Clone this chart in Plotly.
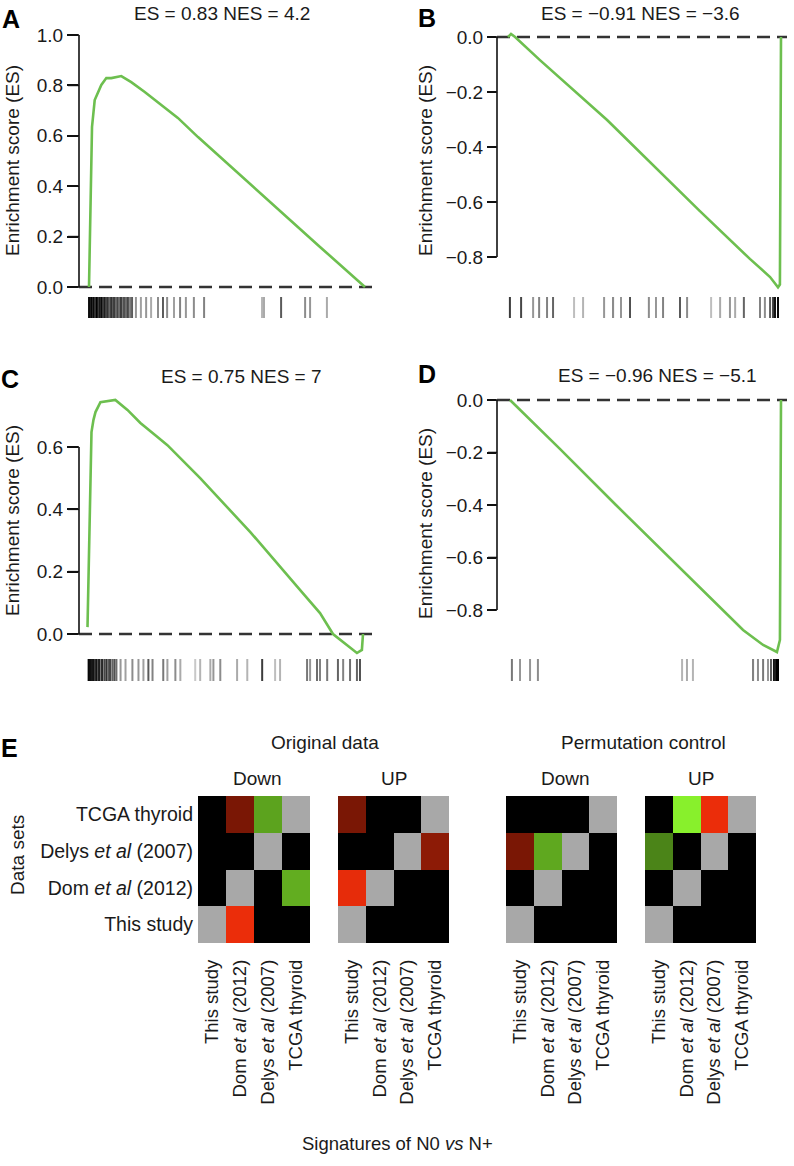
import plotly.graph_objects as go

W, H = 794, 1166
FONT = "Liberation Sans, Arial, Helvetica, sans-serif"
TXT = "#1a1a1a"


def fx(p):
    return p / W


def fy(p):
    return 1 - p / H


def ax(n):
    s = "" if n == 1 else str(n)
    return f"x{s}", f"y{s}", f"xaxis{s}", f"yaxis{s}"


# ---------------- data: running enrichment score curves (rank in % of list) ----
rank_A = [0, 0.36, 0.62, 1.09, 2.07, 3.26, 4.46, 6.27, 8.08, 11.7, 15.3, 20.2, 32.2,
          39.5, 54.7, 69.2, 83.7, 100]
es_A = [0, 0.19, 0.373, 0.635, 0.742, 0.774, 0.802, 0.829, 0.829, 0.837, 0.813, 0.774,
        0.671, 0.595, 0.444, 0.302, 0.159, 0.0]

rank_B = [0, 1.1, 2.6, 11.7, 36.3, 52.0, 70.3, 88.6, 96.0, 98.9, 99.6, 100]
es_B = [0, 0.011, 0, -0.084, -0.302, -0.455, -0.633, -0.807, -0.873, -0.91, -0.90, 0.0]

rank_C = [0, 0.36, 0.72, 1.09, 1.45, 2.17, 2.9, 4.7, 7.2, 10.1, 14.5, 19.2, 25.4, 29.0,
          40.9, 59.1, 77.2, 84.4, 89.1, 94.2, 97.8, 99.6, 100]
es_C = [0.022, 0.173, 0.43, 0.574, 0.648, 0.687, 0.712, 0.744, 0.748, 0.751, 0.719,
        0.677, 0.632, 0.606, 0.50, 0.327, 0.141, 0.067, 0.0, -0.035, -0.061, -0.051, 0.0]

rank_D = [0, 18.5, 39.1, 59.0, 77.5, 86.0, 93.4, 98.5, 99.6, 100]
es_D = [0, -0.187, -0.40, -0.602, -0.789, -0.876, -0.933, -0.96, -0.914, 0.0]

# ---------------- data: gene-set hit positions (rank %) and their grey level ---
rug_A_x = [0.0, 0.4, 0.7, 1.1, 1.4, 1.8, 2.2, 2.5, 2.9, 3.3, 3.6, 4.0, 4.3, 4.7, 5.1,
           5.8, 6.2, 6.9, 7.2, 8.0, 8.7, 9.1, 9.8, 10.5, 10.9, 11.6, 12.3, 12.7, 13.4,
           14.1, 14.9, 15.6, 17.0, 18.8, 20.7, 22.5, 25.0, 26.8, 28.3, 30.8, 33.0, 35.1,
           38.0, 41.7, 62.7, 63.4, 69.6, 78.3, 80.1, 86.2]
rug_A_g = [20, 10, 30, 0, 40, 10, 20, 50, 0, 30, 60, 20, 40, 10, 60,
           30, 70, 40, 80, 50, 90, 60, 100, 70, 110, 60, 120, 80, 110,
           70, 120, 90, 150, 160, 150, 170, 140, 90, 140, 160, 130, 150,
           140, 130, 180, 170, 90, 140, 150, 170]

rug_B_x = [0.7, 4.8, 9.2, 11.4, 14.3, 16.5, 24.2, 27.5, 35.2, 38.5, 41.4, 44.7, 51.6,
           54.2, 56.8, 63.0, 65.6, 74.4, 77.7, 81.3, 83.2, 86.4, 92.3, 94.1, 96.0, 97.1,
           97.8, 98.9]
rug_B_g = [60, 70, 150, 130, 130, 100, 190, 180, 150, 140, 150, 80, 140,
           150, 130, 90, 140, 190, 170, 150, 170, 100, 130, 140, 90, 60,
           20, 10]

rug_C_x = [0.4, 0.7, 1.1, 1.4, 1.8, 2.2, 2.5, 2.9, 3.3, 4.0, 4.3, 5.1, 5.4, 6.2, 6.9,
           7.6, 8.3, 9.1, 9.8, 10.5, 12.0, 13.8, 16.3, 18.5, 20.3, 22.1, 23.6, 27.5,
           29.0, 31.9, 33.7, 39.1, 40.9, 44.6, 45.7, 48.2, 54.3, 58.0, 63.4, 68.1, 69.9,
           79.7, 80.8, 83.3, 84.4, 87.0, 90.9, 92.8, 95.3, 97.8, 98.9]
rug_C_g = [20, 0, 30, 10, 40, 0, 30, 60, 20, 50, 30, 60, 40, 70, 50,
           90, 70, 100, 80, 110, 150, 160, 140, 150, 160, 90, 130, 120,
           160, 140, 170, 200, 180, 170, 150, 140, 170, 180, 60, 190, 180,
           120, 150, 110, 130, 120, 100, 130, 110, 100, 80]

rug_D_x = [0.7, 3.7, 7.4, 10.3, 63.5, 65.3, 67.5, 89.7, 91.5, 93.4, 95.2, 96.3, 97.4,
           98.2, 98.9]
rug_D_g = [120, 150, 150, 140, 180, 170, 180, 130, 140, 120, 150, 90, 20, 0, 0]

# ---------------- data: panel E heat maps (None = self comparison, grey) -------
data_sets = ["TCGA thyroid", "Delys <i>et al</i> (2007)", "Dom <i>et al</i> (2012)",
             "This study"]
signatures = ["This study", "Dom <i>et al</i> (2012)", "Delys <i>et al</i> (2007)",
              "TCGA thyroid"]
# positive = red (enriched), negative = green, 0 = black (not significant)
orig_down = [[0, 0.52, -0.68, None],
             [0, 0, None, 0],
             [0, None, 0, -0.72],
             [None, 1.0, 0, 0]]
orig_up = [[0.52, 0, 0, None],
           [0, 0, None, 0.6],
           [0.98, None, 0, 0],
           [None, 0, 0, 0]]
perm_down = [[0, 0, 0, None],
             [0.52, -0.7, None, 0],
             [0, None, 0, 0],
             [None, 0, 0, 0]]
perm_up = [[0, -1.0, 1.0, None],
           [-0.55, 0, None, 0],
           [0, None, 0, 0],
           [None, 0, 0, 0]]

titles = ["ES = 0.83 NES = 4.2", "ES = \u22120.91 NES = \u22123.6",
          "ES = 0.75 NES = 7", "ES = \u22120.96 NES = \u22125.1"]

# ---------------- figure ----------------
fig = go.Figure()
layout = dict(width=W, height=H, margin=dict(l=0, r=0, t=0, b=0, pad=0, autoexpand=False),
              paper_bgcolor="white", plot_bgcolor="rgba(0,0,0,0)", showlegend=False,
              barmode="overlay", font=dict(family=FONT, color=TXT, size=19))
shapes = []
annotations = []

GREEN = "#6dbf4f"
HIDDEN_X = dict(showgrid=False, zeroline=False, showline=False, showticklabels=False,
                ticks="")

panels = [
    dict(rank=rank_A, es=es_A, rx=rug_A_x, rg=rug_A_g, xpx=(79, 373), axpx=79,
         x0px=89, pxu=2.76, ypx=(34, 295), yr=(-0.0317, 1.004),
         ticks=[0, 0.2, 0.4, 0.6, 0.8, 1.0], rugpx=(297, 318), tlen=11),
    dict(rank=rank_B, es=es_B, rx=rug_B_x, rg=rug_B_g, xpx=(497, 787), axpx=497,
         x0px=508, pxu=2.73, ypx=(30, 292), yr=(-0.9273, 0.0255),
         ticks=[-0.8, -0.6, -0.4, -0.2, 0.0], rugpx=(297, 318), tlen=9),
    dict(rank=rank_C, es=es_C, rx=rug_C_x, rg=rug_C_g, xpx=(79, 372), axpx=79,
         x0px=87.5, pxu=2.755, ypx=(395, 656), yr=(-0.0706, 0.7668),
         ticks=[0, 0.2, 0.4, 0.6], rugpx=(659, 681), tlen=11),
    dict(rank=rank_D, es=es_D, rx=rug_D_x, rg=rug_D_g, xpx=(497, 787), axpx=497,
         x0px=510, pxu=2.71, ypx=(393, 657), yr=(-0.979, 0.0267),
         ticks=[-0.8, -0.6, -0.4, -0.2, 0.0], rugpx=(659, 681), tlen=9),
]

for i, p in enumerate(panels):
    xa, ya, xak, yak = ax(2 * i + 1)
    xr_, yr_, xrk, yrk = ax(2 * i + 2)
    xt, _, xtk, _ = ax(13 + i)  # small overlay x axis holding the y-axis decoration
    # curve
    fig.add_trace(go.Scatter(x=p["rank"], y=p["es"], mode="lines", xaxis=xa, yaxis=ya,
                             line=dict(color=GREEN, width=2.6), hoverinfo="skip"))
    # rug
    fig.add_trace(go.Bar(x=p["rx"], y=[1] * len(p["rx"]), xaxis=xr_, yaxis=yr_,
                         width=2.0 / p["pxu"],
                         marker=dict(color=[f"rgb({g},{g},{g})" for g in p["rg"]],
                                     line=dict(width=0)),
                         hoverinfo="skip"))
    # y-axis line and tick marks, drawn on a narrow x axis (units = page pixels)
    tx, ty = [], []
    for t in p["ticks"]:
        tx += [p["axpx"] - p["tlen"], p["axpx"], None]
        ty += [t, t, None]
    tx += [p["axpx"], p["axpx"]]
    ty += [min(p["ticks"]), max(p["ticks"])]
    fig.add_trace(go.Scatter(x=tx, y=ty, mode="lines", xaxis=xt, yaxis=ya,
                             line=dict(color="#111111", width=1.6), hoverinfo="skip",
                             connectgaps=False, cliponaxis=False))
    lo_px, hi_px = p["axpx"] - p["tlen"] - 3, p["axpx"] + 3
    layout[xtk] = dict(domain=[fx(lo_px), fx(hi_px)], range=[lo_px, hi_px], anchor=ya,
                       **HIDDEN_X)

    xrange = [(p["xpx"][0] - p["x0px"]) / p["pxu"], (p["xpx"][1] - p["x0px"]) / p["pxu"]]
    xd = [fx(p["xpx"][0]), fx(p["xpx"][1])]
    layout[xak] = dict(domain=xd, range=xrange, anchor=ya, **HIDDEN_X)
    layout[yak] = dict(domain=[fy(p["ypx"][1]), fy(p["ypx"][0])], range=list(p["yr"]),
                       anchor=xa, showline=False, showgrid=False, zeroline=False,
                       tickmode="array", tickvals=p["ticks"],
                       ticktext=[(f"{t:.1f}").replace("-", "\u2212") for t in p["ticks"]],
                       ticks="outside", ticklen=p["tlen"], tickwidth=1.6,
                       tickcolor="#111111",
                       tickfont=dict(size=19, color=TXT, family=FONT))
    layout[xrk] = dict(domain=xd, range=xrange, anchor=yr_, **HIDDEN_X)
    layout[yrk] = dict(domain=[fy(p["rugpx"][1]), fy(p["rugpx"][0])], range=[0, 1],
                       anchor=xr_, visible=False)
    shapes.append(dict(type="line", xref=f"{xa} domain", yref=ya, x0=0, x1=1, y0=0, y1=0,
                       layer="below", line=dict(color="#333", width=2.6, dash="13px,7px")))

# ---------------- panel E heat maps ----------------
CS = [[0, "rgb(136,240,44)"], [0.5, "rgb(0,0,0)"], [1, "rgb(235,45,10)"]]
heat = [orig_down, orig_up, perm_down, perm_up]
hx = [(198, 310), (338, 449), (506, 617), (645, 756)]
hy = (796, 943)
for k, (mat, (x0, x1)) in enumerate(zip(heat, hx)):
    xa, ya, xak, yak = ax(9 + k)
    fig.add_trace(go.Heatmap(z=mat, x=[0, 1, 2, 3], y=[0, 1, 2, 3], xaxis=xa, yaxis=ya,
                             colorscale=CS, zmin=-1, zmax=1, showscale=False,
                             hoverinfo="skip"))
    mask = [[1 if v is None else None for v in row] for row in mat]
    fig.add_trace(go.Heatmap(z=mask, x=[0, 1, 2, 3], y=[0, 1, 2, 3], xaxis=xa, yaxis=ya,
                             colorscale=[[0, "#a8a8a8"], [1, "#a8a8a8"]], showscale=False,
                             hoverinfo="skip"))
    layout[xak] = dict(domain=[fx(x0), fx(x1)], range=[-0.5, 3.5], anchor=ya,
                       showgrid=False, zeroline=False, showline=False,
                       tickmode="array", tickvals=[0, 1, 2, 3], ticktext=signatures,
                       tickangle=-90, ticks="", ticklabelstandoff=12,
                       tickfont=dict(size=18.5, color=TXT, family=FONT))
    layout[yak] = dict(domain=[fy(hy[1]), fy(hy[0])], range=[3.5, -0.5], anchor=xa,
                       showgrid=False, zeroline=False, showline=False,
                       tickmode="array", tickvals=[0, 1, 2, 3],
                       ticktext=data_sets if k == 0 else ["", "", "", ""],
                       ticks="", ticklabelstandoff=4,
                       showticklabels=(k == 0),
                       tickfont=dict(size=19.5, color=TXT, family=FONT))


def ann(text, x, y, size=19, bold=False, angle=0, xanchor="center"):
    annotations.append(dict(text=f"<b>{text}</b>" if bold else text, x=fx(x), y=fy(y),
                            xref="paper", yref="paper", showarrow=False, textangle=angle,
                            xanchor=xanchor, yanchor="middle",
                            font=dict(size=size, color="#000" if bold else TXT, family=FONT)))


# panel letters
ann("A", 11, 19, size=25, bold=True)
ann("B", 427, 18, size=25, bold=True)
ann("C", 10, 379, size=25, bold=True)
ann("D", 427, 374, size=25, bold=True)
ann("E", 9, 748, size=25, bold=True)
# titles
ann(titles[0], 222, 13)
ann(titles[1], 640, 13)
ann(titles[2], 241, 377)
ann(titles[3], 657, 375)
# y titles
ann("Enrichment score (ES)", 12, 161, angle=-90)
ann("Enrichment score (ES)", 425, 161, angle=-90)
ann("Enrichment score (ES)", 12, 521, angle=-90)
ann("Enrichment score (ES)", 425, 524, angle=-90)
# panel E headers
ann("Original data", 325, 743)
ann("Permutation control", 643, 742)
ann("Down", 257, 778)
ann("UP", 394, 778)
ann("Down", 565, 778)
ann("UP", 701, 778)
ann("Data sets", 17, 855, angle=-90)
ann("Signatures of N0 <i>vs</i> N+", 397, 1143, size=18.5)

layout["shapes"] = shapes
layout["annotations"] = annotations
fig.update_layout(**layout)
fig.write_html("out.html", config={"displayModeBar": False},
               post_script="document.body.style.margin='0px';")
